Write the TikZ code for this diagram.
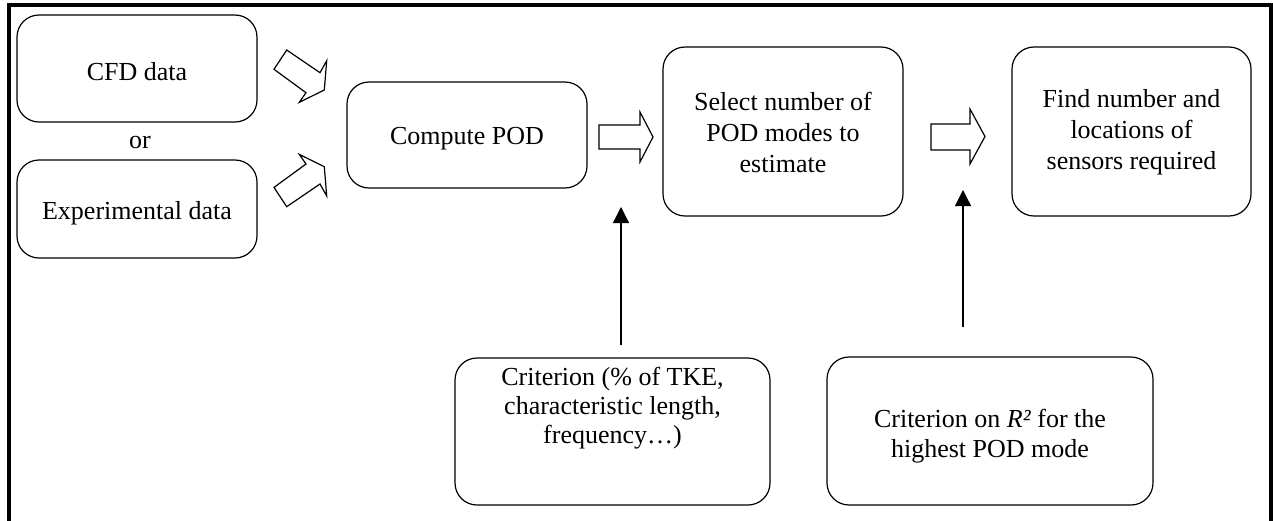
\documentclass[tikz,border=0pt]{standalone}
\usepackage{fontspec}
\setmainfont{Liberation Serif}
\usetikzlibrary{arrows.meta}
\tikzset{
  box/.style={draw, line width=1.2pt, rounded corners=22pt, inner sep=0pt},
  txt/.style={inner sep=0pt, align=center, font=\fontsize{26}{31}\selectfont},
  blockarrow/.style={draw, line width=1.2pt, line join=miter, fill=white},
  uparrow/.style={line width=1.2pt, -{Triangle[width=16pt,length=16pt]}},
  frame/.style={draw, line width=4pt}
}
\begin{document}
\begin{tikzpicture}[x=1pt,y=-1pt]
\useasboundingbox (0,0) rectangle (1273,520);
\draw[frame] (9,5) rectangle (1271,560);

\node[box, minimum width=240pt, minimum height=107pt] (cfd) at (137,68.5) {};
\node[txt] (cfdt) at (137,72) {CFD data};
\node[txt] (or) at (140,142) {or};
\node[box, minimum width=240pt, minimum height=98pt] (exp) at (137,209) {};
\node[txt] (expt) at (137,213) {Experimental data};
\node[box, minimum width=240pt, minimum height=106pt] (pod) at (467,135) {};
\node[txt] (podt) at (467,139) {Compute POD};
\node[box, minimum width=240pt, minimum height=169pt] (sel) at (783,131.5) {};
\node[txt] (selt) at (783,132) {Select number of\\POD modes to\\estimate};
\node[box, minimum width=239pt, minimum height=169pt] (find) at (1131.5,131.5) {};
\node[txt] (findt) at (1131.5,132) {Find number and\\locations of\\sensors required};
\node[box, minimum width=315pt, minimum height=147pt] (crit1) at (612.5,431.5) {};
\node[txt, font=\fontsize{26}{29}\selectfont] (crit1t) at (612.5,408) {Criterion (\% of TKE,\\characteristic length,\\frequency…)};
\node[box, minimum width=326pt, minimum height=148pt] (crit2) at (990,431) {};
\node[txt, font=\fontsize{26}{30}\selectfont] (crit2t) at (990,436) {Criterion on \textit{R²} for the\\highest POD mode};

% block arrows
\draw[blockarrow] (286.7,50) -- (320,72.7) -- (326.7,60.7) -- (324.3,90) -- (299.3,102.3) -- (306,92.7) -- (274,69.3) -- cycle;
\draw[blockarrow] (286.7,206.7) -- (320,184) -- (326.7,196) -- (324.3,166.7) -- (299.3,154.4) -- (306,164) -- (274,187.4) -- cycle;
\draw[blockarrow] (599,125) -- (640,125) -- (640,112) -- (653,137) -- (640,162) -- (640,149) -- (599,149) -- cycle;
\draw[blockarrow] (931,124) -- (970,124) -- (970,109) -- (985,136.5) -- (970,164) -- (970,150) -- (931,150) -- cycle;

% vertical arrows
\coordinate (v1s) at (621,345);
\coordinate (v1e) at (621,207);
\coordinate (v2s) at (963,327);
\coordinate (v2e) at (963,190);
\draw[uparrow] (v1s) -- (v1e);
\draw[uparrow] (v2s) -- (v2e);
\end{tikzpicture}
\end{document}
